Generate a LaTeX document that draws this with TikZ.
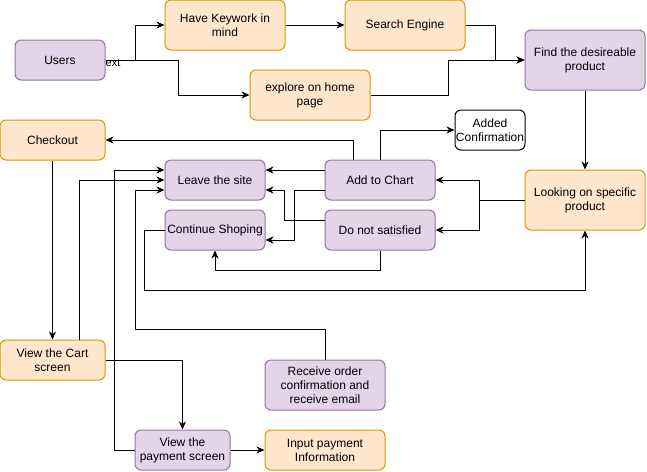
\documentclass[tikz,border=0pt]{standalone}
\usepackage{fontspec}
\setmainfont{Liberation Sans}
\usetikzlibrary{arrows.meta,calc}
\definecolor{orgfill}{HTML}{FFE6CC}
\definecolor{orgline}{HTML}{D79B00}
\definecolor{purfill}{HTML}{E1D5E7}
\definecolor{purline}{HTML}{9673A6}
\tikzset{
  base/.style={rectangle, rounded corners=6pt, line width=1pt, align=center, inner sep=0pt,
    font=\fontsize{12}{14}\selectfont},
  org/.style={base, fill=orgfill, draw=orgline},
  pur/.style={base, fill=purfill, draw=purline},
  wht/.style={base, fill=white, draw=black},
  arr/.style={-{Stealth[length=8pt,width=7pt,inset=2.5pt]}, line width=1pt, black},
}
\begin{document}
\begin{tikzpicture}[x=1pt,y=-1pt]
\useasboundingbox[fill=white] (0,0) rectangle (647,471);
% nodes
\node[pur, minimum width=90, minimum height=40] (users) at (60,60) {Users};
\node[org, minimum width=120, minimum height=50] (kw) at (225,25) {Have Keywork in\\mind};
\node[org, minimum width=120, minimum height=50] (se) at (405,25) {Search Engine};
\node[org, minimum width=120, minimum height=50] (explore) at (310,95) {explore on home\\page};
\node[pur, minimum width=120, minimum height=60] (find) at (585,60) {Find the desireable\\product};
\node[wht, minimum width=70, minimum height=40] (conf) at (490,130) {Added\\Confirmation};
\node[pur, minimum width=110, minimum height=40] (add) at (380,180) {Add to Chart};
\node[pur, minimum width=110, minimum height=40] (dns) at (380,230) {Do not satisfied};
\node[org, minimum width=120, minimum height=60] (look) at (585,200) {Looking on specific\\product};
\node[org, minimum width=105, minimum height=40] (checkout) at (52.5,140) {Checkout};
\node[pur, minimum width=100, minimum height=40] (leave) at (215,180) {Leave the site};
\node[pur, minimum width=100, minimum height=40] (cont) at (215,230) {Continue Shoping};
\node[org, minimum width=105, minimum height=40] (cart) at (52.5,360) {View the Cart\\screen};
\node[pur, minimum width=95, minimum height=40] (pay) at (182.5,450) {View the\\payment screen};
\node[org, minimum width=120, minimum height=40] (input) at (325,450) {Input payment\\Information};
\node[pur, minimum width=120, minimum height=50] (recv) at (325,385) {Receive order\\confirmation and\\receive email};
% connectors
\draw[arr] (users.east) -- ++(30,0) |- (kw.west);
\draw[arr] (users.east) -- ++(73,0) |- (explore.west);
\node[anchor=west, inner sep=0pt, font=\fontsize{11}{13}\selectfont] (lbl) at ($(users.east)+(0,2.5)$) {ext};
\draw[arr] (kw) -- (se);
\draw[arr] (se.east) -- ++(30,0) |- (find.west);
\draw[arr] (explore.east) -- ++(78,0) |- (find.west);
\draw[arr] (find) -- (look);
\draw[arr] (look.west) -- ++(-45,0) |- (add.east);
\draw[arr] (look.west) -- ++(-45,0) |- (dns.east);
\draw[arr] (add.north) |- (conf.west);
\draw[arr] ($(add.north)+(-27,0)$) |- (checkout.east);
\draw[arr] ($(add.west)+(0,-10)$) -- ($(leave.east)+(0,-10)$);
\draw[arr] ($(add.west)+(0,10)$) -- ++(-30,0) |- ($(cont.east)+(0,10)$);
\draw[arr] ($(dns.west)+(0,-10)$) -- ++(-40,0) |- ($(leave.east)+(0,10)$);
\draw[arr] (dns.south) -- ++(0,20) -| (cont.south);
\draw[arr] (cont.west) -- ++(-20,0) -- ++(0,60) -| (look.south);
\draw[arr] (checkout) -- (cart);
\draw[arr] ($(cart.north)+(26.5,0)$) |- (leave.west);
\draw[arr] (cart.east) -| (pay.north);
\draw[arr] (pay.west) -- ++(-20,0) |- ($(leave.west)+(0,-10)$);
\draw[arr] (pay) -- (input);
\draw[arr] (recv.north) -- ++(0,-30) -- ++(-190,0) |- ($(leave.west)+(0,10)$);
\end{tikzpicture}
\end{document}
